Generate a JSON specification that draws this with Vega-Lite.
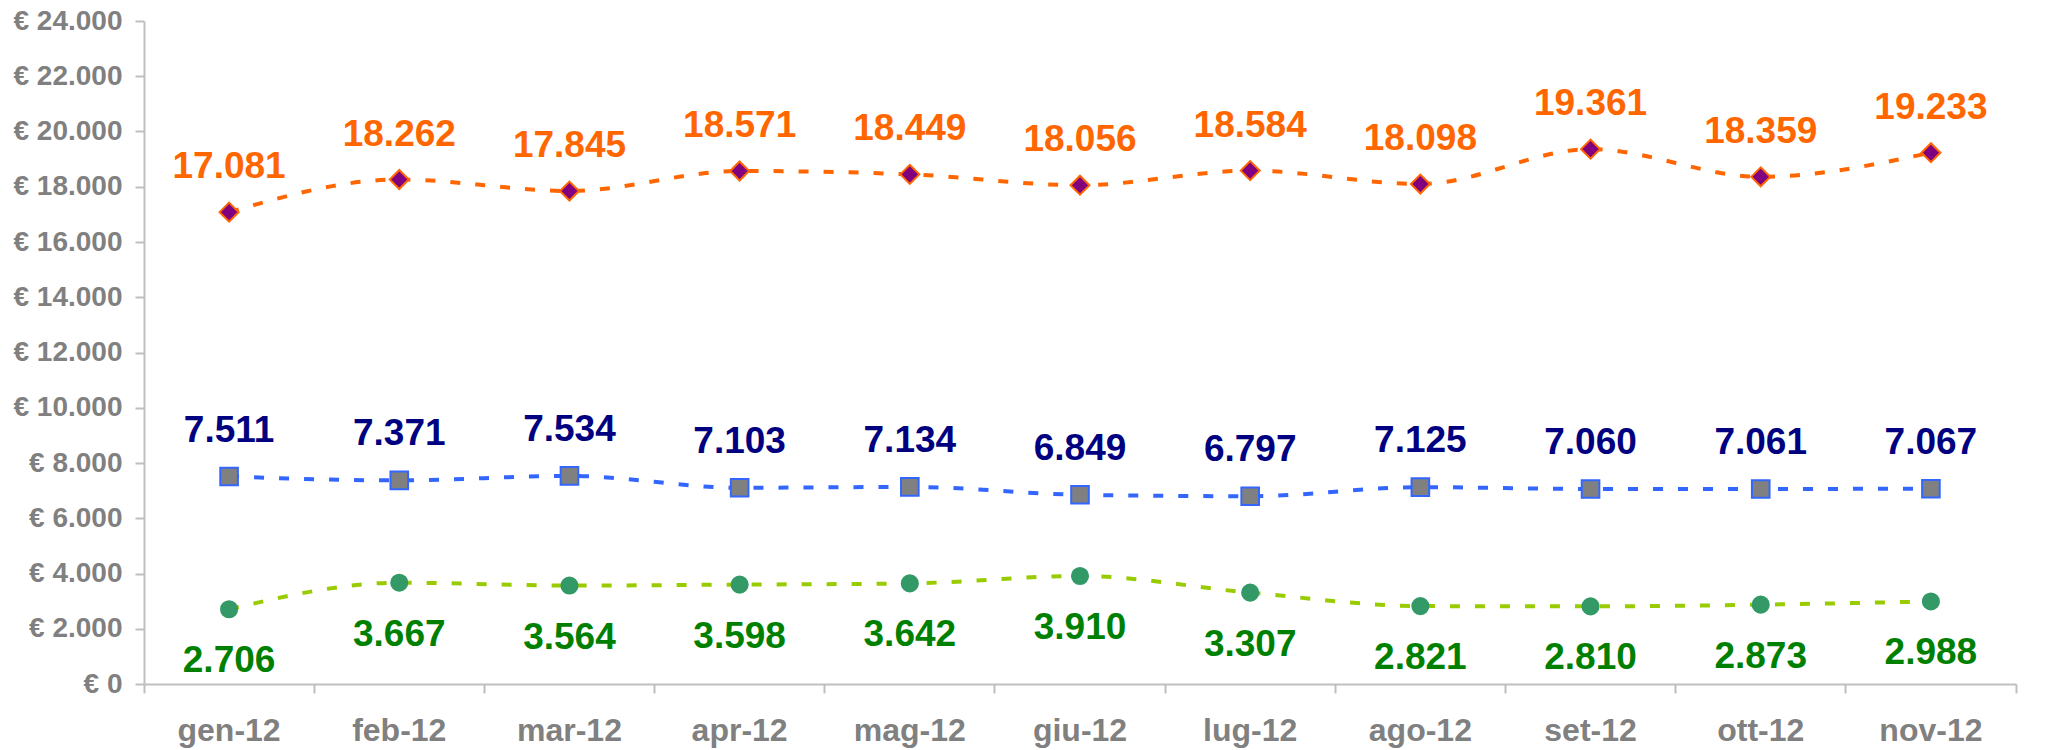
{
  "$schema": "https://vega.github.io/schema/vega-lite/v6.json",
  "autosize": {"type": "none"},
  "width": 1872,
  "height": 663,
  "padding": {"left": 144, "top": 21, "right": 45, "bottom": 66},
  "background": "white",
  "config": {
    "view": {"stroke": null},
    "locale": {"number": {"decimal": ",", "thousands": ".", "grouping": [3], "currency": ["€ ", ""]}},
    "font": "Liberation Sans"
  },
  "data": {
    "values": [
      {"month": "gen-12", "series": "Serie 1", "value": 17081},
      {"month": "feb-12", "series": "Serie 1", "value": 18262},
      {"month": "mar-12", "series": "Serie 1", "value": 17845},
      {"month": "apr-12", "series": "Serie 1", "value": 18571},
      {"month": "mag-12", "series": "Serie 1", "value": 18449},
      {"month": "giu-12", "series": "Serie 1", "value": 18056},
      {"month": "lug-12", "series": "Serie 1", "value": 18584},
      {"month": "ago-12", "series": "Serie 1", "value": 18098},
      {"month": "set-12", "series": "Serie 1", "value": 19361},
      {"month": "ott-12", "series": "Serie 1", "value": 18359},
      {"month": "nov-12", "series": "Serie 1", "value": 19233},
      {"month": "gen-12", "series": "Serie 2", "value": 7511},
      {"month": "feb-12", "series": "Serie 2", "value": 7371},
      {"month": "mar-12", "series": "Serie 2", "value": 7534},
      {"month": "apr-12", "series": "Serie 2", "value": 7103},
      {"month": "mag-12", "series": "Serie 2", "value": 7134},
      {"month": "giu-12", "series": "Serie 2", "value": 6849},
      {"month": "lug-12", "series": "Serie 2", "value": 6797},
      {"month": "ago-12", "series": "Serie 2", "value": 7125},
      {"month": "set-12", "series": "Serie 2", "value": 7060},
      {"month": "ott-12", "series": "Serie 2", "value": 7061},
      {"month": "nov-12", "series": "Serie 2", "value": 7067},
      {"month": "gen-12", "series": "Serie 3", "value": 2706},
      {"month": "feb-12", "series": "Serie 3", "value": 3667},
      {"month": "mar-12", "series": "Serie 3", "value": 3564},
      {"month": "apr-12", "series": "Serie 3", "value": 3598},
      {"month": "mag-12", "series": "Serie 3", "value": 3642},
      {"month": "giu-12", "series": "Serie 3", "value": 3910},
      {"month": "lug-12", "series": "Serie 3", "value": 3307},
      {"month": "ago-12", "series": "Serie 3", "value": 2821},
      {"month": "set-12", "series": "Serie 3", "value": 2810},
      {"month": "ott-12", "series": "Serie 3", "value": 2873},
      {"month": "nov-12", "series": "Serie 3", "value": 2988}
    ]
  },
  "encoding": {
    "x": {
      "field": "month", "type": "nominal", "sort": null,
      "scale": {"type": "band", "paddingInner": 0, "paddingOuter": 0},
      "axis": {
        "title": null, "labelAngle": 0, "bandPosition": 1, "tickExtra": true,
        "labelFontSize": 32, "labelFontWeight": "bold", "labelColor": "#808080",
        "labelPadding": 22, "tickSize": 9, "tickColor": "#BFBFBF", "tickWidth": 2,
        "domainColor": "#BFBFBF", "domainWidth": 2, "grid": false
      }
    },
    "y": {
      "field": "value", "type": "quantitative",
      "scale": {"domain": [0, 24000], "nice": false},
      "axis": {
        "title": null, "values": [0, 2000, 4000, 6000, 8000, 10000, 12000, 14000, 16000, 18000, 20000, 22000, 24000],
        "format": ",d", "labelExpr": "'€ ' + datum.label",
        "labelFontSize": 28, "labelFontWeight": "bold", "labelColor": "#808080",
        "labelPadding": 13, "tickSize": 9, "tickColor": "#BFBFBF", "tickWidth": 2,
        "domainColor": "#BFBFBF", "domainWidth": 2, "grid": false
      }
    }
  },
  "layer": [
    {
      "mark": {"type": "line", "strokeWidth": 4, "strokeDash": [10, 15], "interpolate": "monotone"},
      "encoding": {
        "color": {"field": "series", "type": "nominal", "legend": null,
          "scale": {"domain": ["Serie 1", "Serie 2", "Serie 3"], "range": ["#FF6600", "#3366FF", "#99CC00"]}}
      }
    },
    {
      "mark": {"type": "point", "filled": true, "strokeWidth": 2, "opacity": 1},
      "encoding": {
        "shape": {"field": "series", "type": "nominal", "legend": null,
          "scale": {"domain": ["Serie 1", "Serie 2", "Serie 3"], "range": ["diamond", "square", "circle"]}},
        "size": {"field": "series", "type": "nominal", "legend": null,
          "scale": {"domain": ["Serie 1", "Serie 2", "Serie 3"], "range": [360, 260, 300]}},
        "fill": {"field": "series", "type": "nominal", "legend": null,
          "scale": {"domain": ["Serie 1", "Serie 2", "Serie 3"], "range": ["#800080", "#808080", "#339966"]}},
        "stroke": {"field": "series", "type": "nominal", "legend": null,
          "scale": {"domain": ["Serie 1", "Serie 2", "Serie 3"], "range": ["#FF6600", "#3366FF", "#339966"]}}
      }
    },
    {
      "transform": [{"filter": "datum.series === 'Serie 1'"}],
      "mark": {"type": "text", "fontSize": 37, "fontWeight": "bold", "color": "#FF6600", "baseline": "alphabetic", "dy": -34},
      "encoding": {"text": {"field": "value", "type": "quantitative", "format": ",d"}}
    },
    {
      "transform": [{"filter": "datum.series === 'Serie 2'"}],
      "mark": {"type": "text", "fontSize": 37, "fontWeight": "bold", "color": "#000080", "baseline": "alphabetic", "dy": -35},
      "encoding": {"text": {"field": "value", "type": "quantitative", "format": ",d"}}
    },
    {
      "transform": [{"filter": "datum.series === 'Serie 3'"}],
      "mark": {"type": "text", "fontSize": 37, "fontWeight": "bold", "color": "#008000", "baseline": "alphabetic", "dy": 63},
      "encoding": {"text": {"field": "value", "type": "quantitative", "format": ",d"}}
    }
  ]
}
